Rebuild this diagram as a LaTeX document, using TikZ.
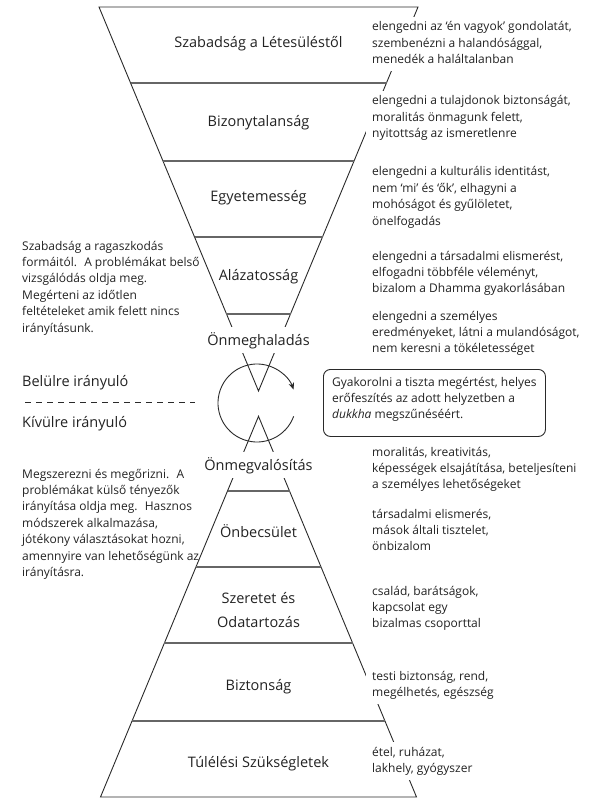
\documentclass[tikz,border=0pt]{standalone}
\usepackage{fontspec}
\setmainfont{Open Sans}
\usetikzlibrary{arrows.meta,calc}
\definecolor{txt}{HTML}{222222}
\definecolor{ln}{HTML}{2A2A2A}
\newcommand\blk[1]{\begin{tabular}[t]{@{}l@{}}#1\end{tabular}}
\newcommand\cblk[1]{\begin{tabular}[t]{@{}c@{}}#1\end{tabular}}
\begin{document}
\begin{tikzpicture}[x=1pt,y=-1pt,
  edge/.style={draw=ln, line width=0.9pt},
  tier/.style={draw=black!60, line width=1.3pt},
  ttl/.style={font=\fontsize{14.5}{24}\selectfont, text=txt, anchor=base, inner sep=0pt},
  mask/.style={ttl, fill=white, inner xsep=4pt, inner ysep=5pt},
  side/.style={font=\fontsize{12}{16.4}\selectfont, text=txt, anchor=base west, fill=white, inner xsep=6pt, inner ysep=2.5pt},
  note/.style={font=\fontsize{12}{16.4}\selectfont, text=txt, anchor=base west, inner sep=0pt},
  lbl/.style={font=\fontsize{14.5}{24}\selectfont, text=txt, anchor=base west, inner sep=0pt},
]
\useasboundingbox (0,0) rectangle (593,810);
% ---------- upper funnel ----------
\coordinate (utl) at (99,7);
\coordinate (utr) at (418,7);
\coordinate (uap) at (258.5,391);
\draw[edge] (utl) -- (uap) -- (utr) -- cycle;
\draw[tier] (130.5,83) -- (386.5,83);
\draw[tier] (162.9,161) -- (354.1,161);
\draw[tier] (194.5,237) -- (322.5,237);
\draw[tier] (226.4,314) -- (290.6,314);
% ---------- lower pyramid ----------
\coordinate (lbl) at (100.5,797);
\coordinate (lbr) at (416.5,797);
\coordinate (lap) at (258.5,416.3);
\draw[edge] (lbl) -- (lap) -- (lbr) -- cycle;
\draw[tier] (227.5,491) -- (289.5,491);
\draw[tier] (196,567) -- (321,567);
\draw[tier] (164.4,643) -- (352.6,643);
\draw[tier] (132,721) -- (385,721);
% ---------- cycle arrow ----------
\coordinate (cc) at (257,403);
\draw[edge, -{Stealth[length=7pt,width=5.5pt]}] ($(cc)+(20:39)$) arc[start angle=20, end angle=340, radius=39];
% ---------- dashed divider ----------
\coordinate (d1) at (25,402);
\coordinate (d2) at (195,402);
\draw[edge, dash pattern=on 6pt off 5pt] (d1) -- (d2);
% ---------- tier titles ----------
\node[ttl] (t1) at (258.5,48) {Szabadság a Létesüléstől};
\node[ttl] (t2) at (258.5,127) {Bizonytalanság};
\node[ttl] (t3) at (258.5,202) {Egyetemesség};
\node[ttl] (t4) at (258.5,280) {Alázatosság};
\node[mask] (t5) at (258.5,345) {Önmeghaladás};
\node[mask] (t6) at (258.5,470) {Önmegvalósítás};
\node[ttl] (t7) at (258.5,537) {Önbecsület};
\node[ttl] (t8) at (258.5,603) {\cblk{Szeretet és\\Odatartozás}};
\node[ttl] (t9) at (258.5,690) {Biztonság};
\node[ttl] (t10) at (258.5,767) {Túlélési Szükségletek};
% ---------- side texts ----------
\node[side] (s1) at (366,31) {\blk{elengedni az ‘én vagyok’ gondolatát,\\szembenézni a halandósággal,\\menedék a haláltalanban}};
\node[side] (s2) at (366,105) {\blk{elengedni a tulajdonok biztonságát,\\moralitás önmagunk felett,\\nyitottság az ismeretlenre}};
\node[side] (s3) at (366,176) {\blk{elengedni a kulturális identitást,\\nem ‘mi’ és ‘ők’, elhagyni a\\mohóságot és gyűlöletet,\\önelfogadás}};
\node[side] (s4) at (366,260) {\blk{elengedni a társadalmi elismerést,\\elfogadni többféle véleményt,\\bizalom a Dhamma gyakorlásában}};
\node[side] (s5) at (366,320) {\blk{elengedni a személyes\\eredményeket, látni a mulandóságot,\\nem keresni a tökéletességet}};
\node[side] (s6) at (366,456) {\blk{moralitás, kreativitás,\\képességek elsajátítása, beteljesíteni\\a személyes lehetőségeket}};
\node[side] (s7) at (366,518) {\blk{társadalmi elismerés,\\mások általi tisztelet,\\önbizalom}};
\node[side] (s8) at (366,595) {\blk{család, barátságok,\\kapcsolat egy\\bizalmas csoporttal}};
\node[side] (s9) at (366,680) {\blk{testi biztonság, rend,\\megélhetés, egészség}};
\node[side] (s10) at (366,756) {\blk{étel, ruházat,\\lakhely, gyógyszer}};
% ---------- left texts ----------
\node[note] (n1) at (22,250) {\blk{Szabadság a ragaszkodás\\formáitól.~ A problémákat belső\\vizsgálódás oldja meg.\\Megérteni az időtlen\\feltételeket amik felett nincs\\irányításunk.}};
\node[lbl] (in) at (22,386) {Belülre irányuló};
\node[lbl] (out) at (22,427) {Kívülre irányuló};
\node[note] (n2) at (22,478) {\blk{Megszerezni és megőrizni.~ A\\problémákat külső tényezők\\irányítása oldja meg.~ Hasznos\\módszerek alkalmazása,\\jótékony választásokat hozni,\\amennyire van lehetőségünk az\\irányításra.}};
% ---------- practice box ----------
\node[draw=ln, line width=0.9pt, rounded corners=7pt, minimum width=222pt, minimum height=67pt, anchor=north west, inner sep=0pt] (bx) at (323,369) {};
\node[note] (bt) at (332,386) {\blk{Gyakorolni a tiszta megértést, helyes\\erőfeszítés az adott helyzetben a\\\textit{dukkha} megszűnéséért.}};
\end{tikzpicture}
\end{document}
